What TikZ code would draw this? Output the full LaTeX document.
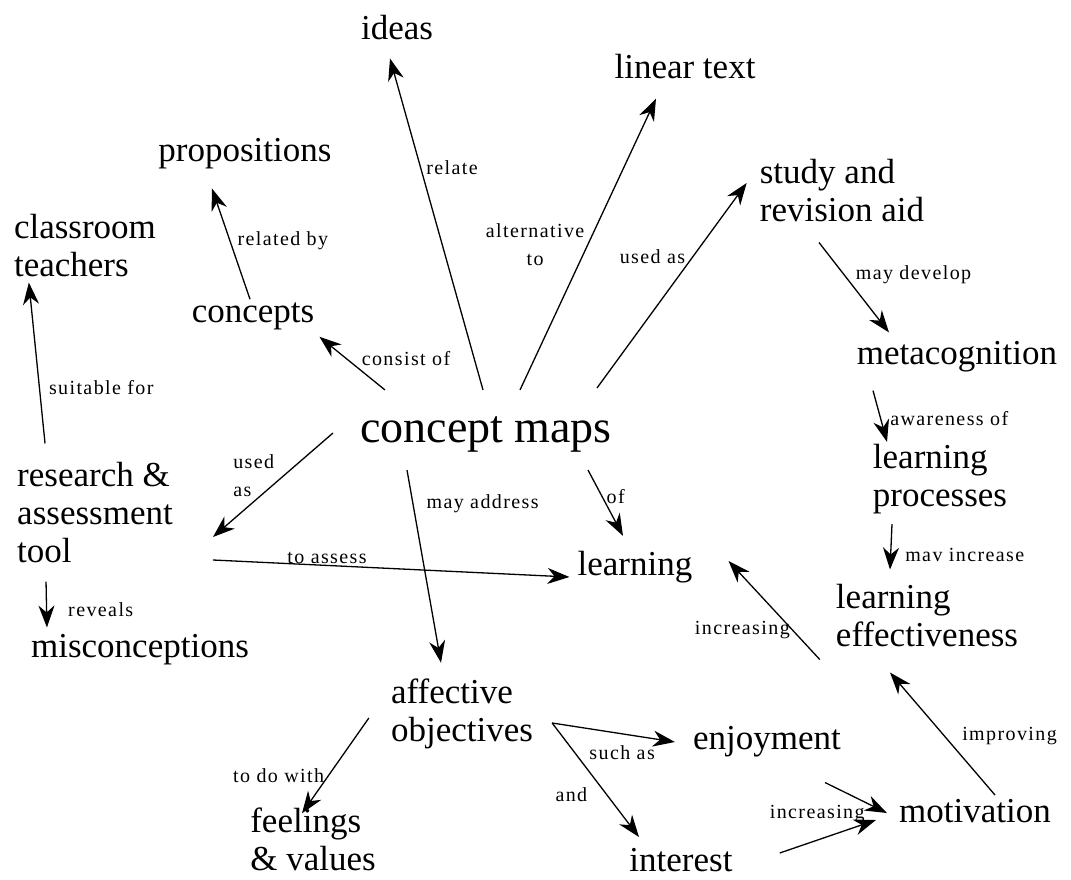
\documentclass[tikz,border=0pt]{standalone}
\usepackage{fontspec}
\setmainfont{Liberation Serif}
\newfontfamily\lblfont[LetterSpace=7]{Liberation Serif}
\usetikzlibrary{arrows.meta, positioning}

\begin{document}
\begin{tikzpicture}[
        x=1pt, y=-1pt,
        concept/.style={inner sep=2pt, align=left, on grid, font=\fontsize{35}{38}\selectfont},
        hub/.style={inner sep=2pt, font=\fontsize{46}{50}\selectfont},
        lbl/.style={inner sep=1pt, align=left, font=\lblfont\fontsize{20}{28}\selectfont},
        link/.style={-{Stealth[length=22pt, width=16pt, inset=7pt]}, line width=1.3pt}
    ]
    \useasboundingbox (0,0) rectangle (1071,880);

    \node (cm) [hub] at (486,434) {concept maps};
    \node (ideas) [concept, above left=406pt and 89pt of cm] {ideas};
    \node (linear) [concept, above right=367pt and 199pt of cm] {linear text};
    \node (conc) [concept, above left=118pt and 233pt of cm] {concepts};
    \node (prop) [concept, above left=162pt and 8pt of conc] {propositions};
    \node (study) [concept, above right=243pt and 356pt of cm] {study and\\revision aid};
    \node (meta) [concept, below right=166pt and 115pt of study] {metacognition};
    \node (proc) [concept, below left=122pt and 17pt of meta] {learning\\processes};
    \node (eff) [concept, below left=137pt and 13pt of proc] {learning\\effectiveness};
    \node (tool) [concept, below left=79pt and 391pt of cm] {research \&\\assessment\\tool};
    \node (teach) [concept, above left=267pt and 10pt of tool] {classroom\\teachers};
    \node (misc) [concept, below right=137pt and 45pt of tool] {misconceptions};
    \node (learn) [concept, below right=133pt and 149pt of cm] {learning};
    \node (aff) [concept, below left=280pt and 24pt of cm] {affective\\objectives};
    \node (feel) [concept, below left=125pt and 149pt of aff] {feelings\\\& values};
    \node (enjoy) [concept, below right=28pt and 305pt of aff] {enjoyment};
    \node (inter) [concept, below right=146pt and 219pt of aff] {interest};
    \node (motiv) [concept, below right=69pt and 208pt of enjoy] {motivation};

    \draw [link] ([shift={(-3,-24)}]cm.north) -- node [lbl, pos=0.67, right=4pt] {relate} ([shift={(-7,16)}]ideas.south);
    \draw [link] ([shift={(34,-24)}]cm.north) -- node [lbl, pos=0.5, left=2pt, align=center] {alternative\\to} ([shift={(-29,17)}]linear.south);
    \draw [link] ([shift={(-17,-26)}]cm.north east) -- node [lbl, pos=0.64, left=6pt] {used as} ([shift={(-11,-8)}]study.west);
    \draw [link] ([shift={(27,-24)}]cm.north west) -- node [lbl, pos=0.4, above right=2pt] {consist of} ([shift={(3,5)}]conc.south east);
    \draw [link] ([shift={(-3,-1)}]conc.north) -- node [lbl, pos=0.53, right=6pt] {related by} ([shift={(-33,17)}]prop.south);
    \draw [link] ([shift={(30,-17)}]tool.north west) -- node [lbl, pos=0.35, right=8pt] {suitable for} ([shift={(17,3)}]teach.south west);
    \draw [link] ([shift={(-25,-1)}]cm.west) -- node [lbl, pos=0.41, left=8pt] {used\\as} ([shift={(38,24)}]tool.east);
    \draw [link] ([shift={(38,47)}]tool.east) -- node [lbl, pos=0.32, above=0pt] {to assess} ([shift={(-6,10)}]learn.west);
    \draw [link] ([shift={(31,16)}]tool.south west) -- node [lbl, pos=0.62, right=20pt] {reveals} ([shift={(18,-5)}]misc.north west);
    \draw [link] ([shift={(-79,16)}]cm.south) -- node [lbl, pos=0.175, right=12pt] {may address} ([shift={(-21,-14)}]aff.north);
    \draw [link] ([shift={(102,16)}]cm.south) -- node [lbl, pos=0.4, right=3pt] {of} ([shift={(-12,-13)}]learn.north);
    \draw [link] ([shift={(-23,18)}]study.south) -- node [lbl, pos=0.36, right=10pt] {may develop} ([shift={(-68,-7)}]meta.north);
    \draw [link] ([shift={(-84,16)}]meta.south) -- node [lbl, pos=0.55, right=8pt] {awareness of} ([shift={(-53,0)}]proc.north);
    \draw [link] ([shift={(-48,8)}]proc.south) -- node [lbl, pos=0.69, right=13pt] {mav increase} ([shift={(-37,-13)}]eff.north);
    \draw [link] ([shift={(-14,10)}]eff.south west) -- node [lbl, pos=0.3, left=1pt] {increasing} ([shift={(34,-6)}]learn.east);
    \draw [link] ([shift={(20,-2)}]motiv.north) -- node [lbl, pos=0.48, right=16pt] {improving} ([shift={(-37,23)}]eff.south);
    \draw [link] ([shift={(17,9)}]aff.east) -- node [lbl, pos=0.57, below=10pt] {such as} ([shift={(-16,0)}]enjoy.west);
    \draw [link] ([shift={(17,9)}]aff.east) -- node [lbl, pos=0.63, left=18pt] {and} ([shift={(-42,-9)}]inter.north);
    \draw [link] ([shift={(-20,4)}]aff.west) -- node [lbl, pos=0.6, left=3pt] {to do with} ([shift={(-11,8)}]feel.north);
    \draw [link] ([shift={(-18,23)}]enjoy.south east) -- ([shift={(-10,2)}]motiv.west);
    \draw [link] ([shift={(45,-7)}]inter.east) -- node [lbl, pos=0.39, above=16pt] {increasing} ([shift={(-21,9)}]motiv.west);
\end{tikzpicture}
\end{document}
